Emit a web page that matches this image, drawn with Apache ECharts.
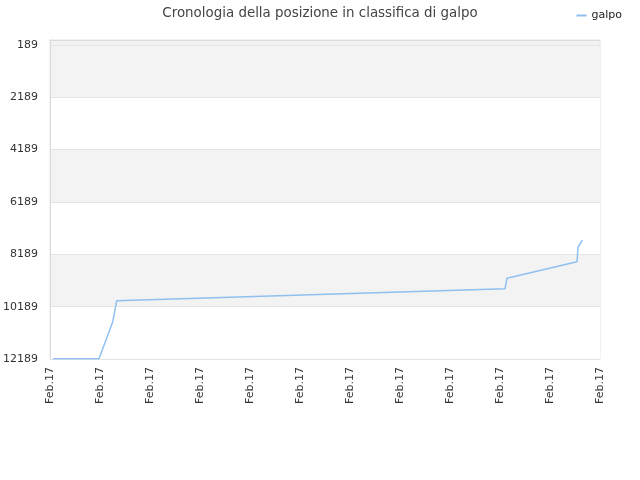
<!DOCTYPE html>
<html>
<head>
<meta charset="utf-8">
<script src="https://cdn.jsdelivr.net/npm/echarts@6/dist/echarts.min.js"></script>
<style>html,body{margin:0;padding:0;background:#fff}#c{width:640px;height:480px}</style>
</head>
<body>
<div id="c"></div>
<script>
var seriesName = 'galpo';
var titleText = 'Cronologia della posizione in classifica di galpo';
var xTickLabel = 'Feb.17';
var xTicks = [0, 2, 4, 6, 8, 10, 12, 14, 16, 18, 20, 22];
var yTicks = [189, 2189, 4189, 6189, 8189, 10189, 12189];
var xValues = [0.12, 1.96, 2.51, 2.67, 18.2, 18.28, 21.08, 21.12, 21.29];
var rankValues = [12180, 12180, 10762, 9960, 9501, 9104, 8470, 7919, 7652];

var data = xValues.map(function (x, i) { return [x, rankValues[i]]; });
var chart = echarts.init(document.getElementById('c'));
chart.setOption({
  animation: false,
  title: {
    text: titleText, left: 'center', top: 2,
    textStyle: { fontSize: 13.4, fontWeight: 'normal', color: '#444', fontFamily: 'DejaVu Sans' }
  },
  legend: {
    data: [seriesName], right: 13, top: 5, itemWidth: 10, itemHeight: 2, itemGap: 9,
    icon: 'rect',
    textStyle: { fontSize: 11, color: '#222', fontFamily: 'DejaVu Sans' }
  },
  grid: {
    left: 50, right: 40, top: 40, bottom: 121, show: true, containLabel: false,
    outerBoundsMode: 'none',
    backgroundColor: '#f3f3f3', borderColor: '#e4e4e4', borderWidth: 1
  },
  xAxis: {
    type: 'value', min: 0, max: 22, interval: 2,
    axisLine: { show: true, lineStyle: { color: '#dcdcdc' } },
    axisTick: { show: false },
    splitLine: { show: false },
    axisLabel: {
      rotate: 90, fontSize: 11, color: '#333', fontFamily: 'DejaVu Sans', margin: 8,
      formatter: function () { return xTickLabel; }
    }
  },
  yAxis: {
    type: 'value', inverse: true, min: 0, max: 12189,
    axisLine: { show: true, lineStyle: { color: '#dcdcdc' } },
    axisTick: { show: false, customValues: yTicks },
    axisLabel: {
      fontSize: 11, color: '#333', fontFamily: 'DejaVu Sans', margin: 12, customValues: yTicks,
      formatter: function (v) { return String(v); }
    },
    splitLine: { show: true, lineStyle: { color: '#e4e4e4' }, customValues: yTicks },
    splitArea: { show: true, areaStyle: { color: ['#f3f3f3', '#ffffff'] }, customValues: yTicks }
  },
  series: [{
    name: seriesName, type: 'line', data: data, showSymbol: false, symbol: 'none',
    lineStyle: { width: 1.5, color: '#8fc0f0' }, itemStyle: { color: '#8fc0f0' }
  }]
});
</script>
</body>
</html>
